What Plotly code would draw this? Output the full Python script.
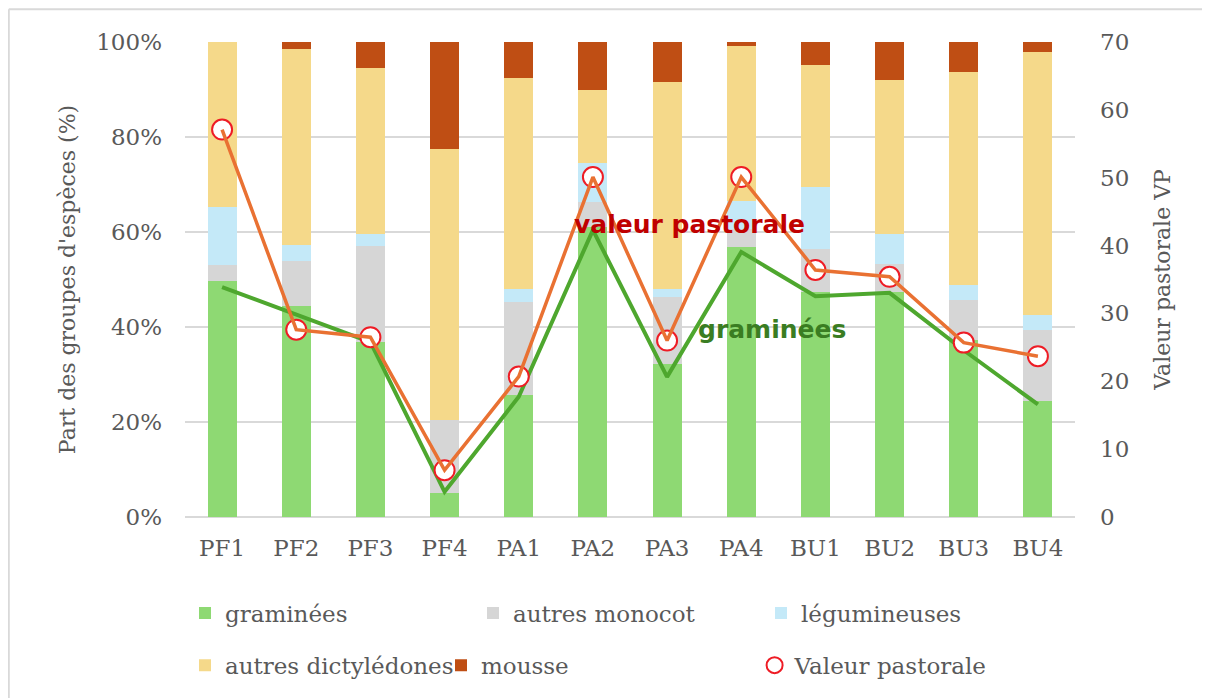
"""Composition des groupes d'espèces et valeur pastorale par parcelle."""

import plotly.graph_objects as go

sites = ["PF1", "PF2", "PF3", "PF4", "PA1", "PA2", "PA3", "PA4", "BU1", "BU2", "BU3", "BU4"]

# parts (fraction of 1)
graminees = [0.497, 0.445, 0.368, 0.051, 0.256, 0.610, 0.323, 0.568, 0.474, 0.474, 0.372, 0.244]
autres_monocot = [0.033, 0.094, 0.202, 0.153, 0.197, 0.053, 0.140, 0.039, 0.091, 0.059, 0.084, 0.150]
legumineuses = [0.123, 0.034, 0.025, 0.000, 0.028, 0.082, 0.018, 0.058, 0.130, 0.063, 0.032, 0.031]
autres_dicot = [0.347, 0.413, 0.350, 0.571, 0.444, 0.155, 0.435, 0.326, 0.256, 0.323, 0.449, 0.554]
mousse = [0.000, 0.014, 0.055, 0.225, 0.075, 0.100, 0.084, 0.009, 0.049, 0.081, 0.063, 0.021]

# valeur pastorale (right axis)
valeur_pastorale = [57.1, 27.6, 26.5, 6.9, 20.7, 50.1, 26.0, 50.1, 36.4, 35.4, 25.7, 23.7]

# hand-drawn trend line following the graminées share
graminees_line = [0.484, 0.427, 0.368, 0.053, 0.253, 0.604, 0.295, 0.558, 0.465, 0.472, 0.351, 0.237]

serif = "DejaVu Serif"
grey_txt = "#595959"

groups = [
    ("graminées", graminees, "#8ED973", "legend"),
    ("autres monocot", autres_monocot, "#D6D6D6", "legend"),
    ("légumineuses", legumineuses, "#C4E9F8", "legend"),
    ("autres dictylédones", autres_dicot, "#F5D98A", "legend2"),
    ("mousse", mousse, "#BF4E14", "legend2"),
]

fig = go.Figure()
for name, vals, color, leg in groups:
    fig.add_trace(go.Bar(x=sites, y=vals, name=name, marker_color=color,
                         marker_line_width=0, legend=leg))

fig.add_trace(go.Scatter(x=sites, y=graminees_line, mode="lines", showlegend=False,
                         line=dict(color="#4EA72E", width=4)))

fig.add_trace(go.Scatter(x=sites, y=valeur_pastorale, yaxis="y2", mode="markers",
                         name="Valeur pastorale", legend="legend3",
                         marker=dict(symbol="circle", size=20, color="white",
                                     line=dict(color="#EE1C25", width=2))))
fig.add_trace(go.Scatter(x=sites, y=valeur_pastorale, yaxis="y2", mode="lines",
                         showlegend=False, line=dict(color="#E97132", width=3.5)))

fig.add_annotation(x=0.567, y=0.615, xref="paper", yref="paper", text="<b>valeur pastorale</b>",
                   showarrow=False, font=dict(family="DejaVu Sans", size=25, color="#C00000"))
fig.add_annotation(x=0.660, y=0.394, xref="paper", yref="paper", text="<b>graminées</b>",
                   showarrow=False, font=dict(family="DejaVu Sans", size=25, color="#3A7D22"))

# light frame around the chart (top and left edges visible)
fig.add_shape(type="line", xref="paper", yref="paper", x0=-0.198, x1=1.2, y0=1.069, y1=1.069,
              line=dict(color="#D9D9D9", width=2))
fig.add_shape(type="line", xref="paper", yref="paper", x0=-0.198, x1=-0.198, y0=1.069, y1=-0.4,
              line=dict(color="#D9D9D9", width=2))

legend_common = dict(orientation="h", entrywidthmode="pixels", traceorder="normal",
                     font=dict(family=serif, size=23, color=grey_txt),
                     xanchor="left", yanchor="middle", bgcolor="rgba(0,0,0,0)")

fig.update_layout(
    width=1210, height=698,
    margin=dict(l=177, r=143, t=34, b=189, autoexpand=False),
    barmode="stack", bargap=0.61,
    plot_bgcolor="white", paper_bgcolor="white",
    font=dict(family=serif, color=grey_txt),
    legend=dict(x=0.0, y=-0.202, entrywidth=243, **legend_common),
    legend2=dict(x=0.0, y=-0.312, entrywidth=211, **legend_common),
    legend3=dict(x=0.64, y=-0.312, entrywidth=220, **legend_common),
    xaxis=dict(range=[-0.5, 11.5], tickfont=dict(size=23, color=grey_txt), showgrid=False,
               showline=False, ticks="", ticklabelstandoff=15),
    yaxis=dict(range=[0, 1], tickformat=".0%", dtick=0.2,
               tickfont=dict(size=23, color=grey_txt),
               gridcolor="#D9D9D9", gridwidth=1.5, zeroline=True,
               zerolinecolor="#D9D9D9", zerolinewidth=1.5,
               ticklabelstandoff=22,
               title=dict(text="Part des groupes d'espèces (%)", standoff=14,
                          font=dict(size=22, color=grey_txt))),
    yaxis2=dict(range=[0, 70], dtick=10, overlaying="y", side="right",
                showgrid=False, zeroline=False,
                tickfont=dict(size=23, color=grey_txt),
                ticklabelstandoff=24,
                title=dict(text="Valeur pastorale VP", standoff=26,
                           font=dict(size=22, color=grey_txt))),
)

fig.write_html("out.html")
